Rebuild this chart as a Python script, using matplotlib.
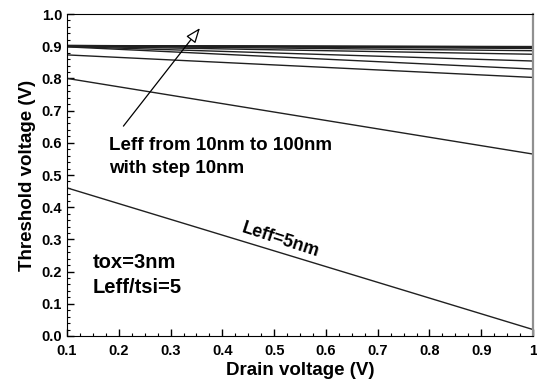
import numpy as np
import matplotlib
matplotlib.use('Agg')
import matplotlib.pyplot as plt
from matplotlib.ticker import MultipleLocator, FixedLocator

plt.rcParams['font.family'] = ['Liberation Sans', 'DejaVu Sans']
plt.rcParams['font.weight'] = 'bold'

# threshold voltage at Vd=0.1 and Vd=1.0 for each Leff (nm)
leff = [5, 10, 20, 30, 40, 50, 60, 70, 80, 90, 100]
vth_start = [0.46, 0.80, 0.873, 0.898, 0.899, 0.900, 0.901, 0.901, 0.902, 0.902, 0.902]
vth_end = [0.02, 0.565, 0.803, 0.829, 0.854, 0.875, 0.886, 0.893, 0.896, 0.898, 0.899]
vd = [0.1, 1.0]

xticks = [0.1, 0.2, 0.3, 0.4, 0.5, 0.6, 0.7, 0.8, 0.9, 1.0]
xlabels = ['0.1', '0.2', '0.3', '0.4', '0.5', '0.6', '0.7', '0.8', '0.9', '1']

fig = plt.figure(figsize=(5.37, 3.87), dpi=100)
ax = fig.add_axes([0.1248, 0.1318, 0.8678, 0.832])

for i in range(len(leff)):
    ax.plot(vd, [vth_start[i], vth_end[i]], color='#202020', lw=1.0)

ax.set_xlim(0.1, 1.0)
ax.set_ylim(0.0, 1.0)
ax.xaxis.set_major_locator(FixedLocator(xticks))
ax.set_xticklabels(xlabels)
ax.xaxis.set_minor_locator(MultipleLocator(0.025))
ax.yaxis.set_major_locator(MultipleLocator(0.1))
ax.yaxis.set_minor_locator(MultipleLocator(0.02))
ax.tick_params(which='both', direction='in', top=False, right=False, labelsize=10.5)
ax.tick_params(which='major', length=5, width=1)
ax.tick_params(which='minor', length=2.5, width=0.8)
ax.tick_params(axis='x', pad=6)
for lab in ax.get_xticklabels() + ax.get_yticklabels():
    lab.set_fontweight('bold')
ax.spines['right'].set_color('#909090')
ax.spines['right'].set_linewidth(1.6)

ax.set_xlabel('Drain voltage (V)', fontsize=13.5, fontweight='bold', labelpad=3)
ax.set_ylabel('Threshold voltage (V)', fontsize=13.5, fontweight='bold', labelpad=4)

ax.text(0.181, 0.593, 'Leff from 10nm to 100nm', fontsize=13.5, fontweight='bold', va='center')
ax.text(0.181, 0.519, 'with step 10nm', fontsize=13.5, fontweight='bold', va='center')
ax.text(0.150, 0.227, 'tox=3nm', fontsize=14.5, fontweight='bold', va='center')
ax.text(0.150, 0.152, 'Leff/tsi=5', fontsize=14.5, fontweight='bold', va='center')
ax.text(0.513, 0.298, 'Leff=5nm', fontsize=13, fontweight='bold', ha='center', va='center', rotation=-18)

ax.annotate('', xy=(0.360, 0.963), xytext=(0.2056, 0.645),
            arrowprops=dict(arrowstyle='-|>,head_length=0.9,head_width=0.35', fc='white', ec='black', lw=0.9))

fig.savefig('out.png', dpi=100)
